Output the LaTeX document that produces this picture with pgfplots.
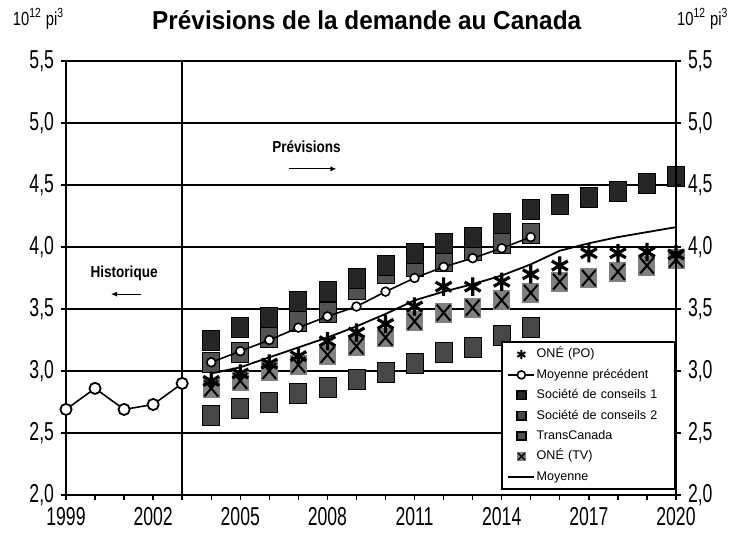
\documentclass[border=0pt]{standalone}
\usepackage{fontspec}
\setmainfont{Liberation Sans}
\newfontfamily\narrowfont[FakeStretch=0.68]{Liberation Sans}
\newfontfamily\titlefont[FakeStretch=0.94]{Liberation Sans}
\newfontfamily\annfont[FakeStretch=0.85]{Liberation Sans}
\newfontfamily\unitfont[FakeStretch=0.78]{Liberation Sans}
\usepackage{pgfplots}
\usepackage{pgfplotstable}
\pgfplotsset{compat=1.18}
\usetikzlibrary{arrows.meta}

\pgfdeclareplotmark{xsquare}{%
  \pgfpathrectangle{\pgfqpoint{-\pgfplotmarksize}{-\pgfplotmarksize}}{\pgfqpoint{2\pgfplotmarksize}{2\pgfplotmarksize}}%
  \pgfusepathqfill
  \pgfpathmoveto{\pgfqpoint{-0.8\pgfplotmarksize}{-0.8\pgfplotmarksize}}%
  \pgfpathlineto{\pgfqpoint{0.8\pgfplotmarksize}{0.8\pgfplotmarksize}}%
  \pgfpathmoveto{\pgfqpoint{-0.8\pgfplotmarksize}{0.8\pgfplotmarksize}}%
  \pgfpathlineto{\pgfqpoint{0.8\pgfplotmarksize}{-0.8\pgfplotmarksize}}%
  \pgfusepathqstroke
}

% forecasts 2004-2020
\pgfplotstableread{
year sca tca ponea ptva scb moy prec
2004 3.25 3.07 2.92 2.86 2.64 2.98 3.07
2005 3.35 3.15 2.98 2.92 2.70 3.03 3.16
2006 3.43 3.27 3.06 3.00 2.75 3.11 3.25
2007 3.56 3.40 3.12 3.05 2.82 3.19 3.35
2008 3.64 3.47 3.24 3.13 2.87 3.27 3.44
2009 3.75 3.66 3.31 3.20 2.93 3.36 3.52
2010 3.85 3.79 3.38 3.27 2.99 3.46 3.64
2011 3.95 3.84 3.52 3.40 3.06 3.57 3.75
2012 4.03 3.88 3.68 3.47 3.15 3.64 3.84
2013 4.08 3.97 3.68 3.51 3.19 3.70 3.91
2014 4.19 4.03 3.72 3.57 3.29 3.77 3.99
2015 4.30 4.11 3.78 3.63 3.35 3.86 4.08
2016 4.34 nan 3.85 3.72 nan 3.97 nan
2017 4.40 nan 3.95 3.75 nan 4.03 nan
2018 4.45 nan 3.95 3.80 nan 4.08 nan
2019 4.51 nan 3.96 3.85 nan 4.12 nan
2020 4.57 nan 3.94 3.90 nan 4.16 nan
}\forecast

% historique 1999-2003
\pgfplotstableread{
year val
1999 2.69
2000 2.86
2001 2.69
2002 2.73
2003 2.90
}\histo

\begin{document}
\begin{tikzpicture}
\useasboundingbox (-33bp,-23bp) rectangle (333.5bp,247.5bp);
\begin{axis}[
  scale only axis, width=305bp, height=217bp,
  xmin=1999, xmax=2020, ymin=2, ymax=5.5,
  xtick={1999,2002,2005,2008,2011,2014,2017,2020},
  xticklabels={1999,2002,2005,2008,2011,2014,2017,2020},
  minor xtick={1999,...,2020},
  ytick={2,2.5,3,3.5,4,4.5,5,5.5},
  xtick pos=bottom, ytick pos=left,
  tick align=outside, major tick length=2.5bp, minor tick length=2.5bp,
  tick style={black, line width=0.7bp},
  ymajorgrids, major grid style={black, line width=1bp},
  axis line style={black, line width=1.1bp},
  ticklabel style={font=\narrowfont\fontsize{13}{14}\selectfont},
  /pgf/number format/.cd, use comma, fixed, fixed zerofill, precision=1, 1000 sep={}, assume math mode=true,
  /pgfplots/.cd,
  clip mode=individual,
  legend style={at={(1,0)}, anchor=south east, yshift=2.5bp, draw=black, line width=0.9bp,
    fill=white, font=\fontsize{6.3}{7}\selectfont, inner sep=2.6bp, row sep=3.2bp,
    nodes={inner sep=0.6bp, text height=4.6bp, text depth=1.2bp, text width=66bp, align=left}},
  legend cell align=left,
  legend image code/.code={\draw[mark repeat=2,mark phase=2,#1] plot coordinates {(0bp,0bp) (6.5bp,0bp) (13bp,0bp)};},
]
\draw[black, line width=0.8bp] (axis cs:2003,2) -- (axis cs:2003,5.5);

% square series
\addplot[only marks, forget plot, mark=square*, mark size=4.25bp, mark options={yscale=1.17, draw=none, fill=black!72}] table[x=year, y=scb] {\forecast};
\addplot[only marks, forget plot, mark=square*, mark size=4.25bp, mark options={yscale=1.17, draw=none, fill=black!68}] table[x=year, y=tca] {\forecast};
\addplot[only marks, forget plot, mark=square*, mark size=4.25bp, mark options={yscale=1.17, draw=none, fill=black!85}] table[x=year, y=sca] {\forecast};
\addplot[only marks, forget plot, mark=xsquare, mark size=4.25bp, mark options={yscale=1.17, draw=black, line width=1bp, fill=black!50}] table[x=year, y=ptva] {\forecast};
\addplot[only marks, forget plot, mark=asterisk, mark size=4.6bp, mark options={black, line width=1.6bp}] table[x=year, y=ponea] {\forecast};

% lines
\addplot[forget plot, black, line width=0.8bp, mark=*, mark size=2.2bp, mark options={fill=white, line width=0.8bp}] table[x=year, y=prec] {\forecast};
\addplot[forget plot, black, line width=0.8bp, mark=*, mark size=2.8bp, mark options={fill=white, line width=0.9bp}] table[x=year, y=val] {\histo};
\addplot[forget plot, black, line width=0.9bp] table[x=year, y=moy] {\forecast};

% legend
\addlegendimage{only marks, mark=asterisk, mark size=2.3bp, mark options={black, line width=1bp}}
\addlegendentry{ONÉ (PO)}
\addlegendimage{black, line width=0.9bp, mark=*, mark size=2bp, mark options={fill=white, line width=0.8bp}}
\addlegendentry{Moyenne précédent}
\addlegendimage{only marks, mark=square*, mark size=2.1bp, mark options={draw=none, fill=black!85}}
\addlegendentry{Société de conseils 1}
\addlegendimage{only marks, mark=square*, mark size=2.1bp, mark options={draw=none, fill=black!72}}
\addlegendentry{Société de conseils 2}
\addlegendimage{only marks, mark=square*, mark size=2.1bp, mark options={draw=none, fill=black!68}}
\addlegendentry{TransCanada}
\addlegendimage{only marks, mark=xsquare, mark size=2.1bp, mark options={draw=black, line width=0.6bp, fill=black!50}}
\addlegendentry{ONÉ (TV)}
\addlegendimage{black, line width=1.1bp}
\addlegendentry{Moyenne}

% annotations
\node[font=\annfont\bfseries\fontsize{8}{9}\selectfont] at (axis cs:2007.28,4.81) {Prévisions};
\draw[-{Latex[length=3bp,width=2.6bp]}, line width=0.6bp] (axis cs:2006.69,4.63) -- (axis cs:2008.31,4.63);
\node[font=\annfont\bfseries\fontsize{8}{9}\selectfont] at (axis cs:2001.0,3.79) {Historique};
\draw[-{Latex[length=3bp,width=2.6bp]}, line width=0.6bp] (axis cs:2001.59,3.62) -- (axis cs:2000.55,3.62);

% title and units
\node[font=\titlefont\bfseries\fontsize{13}{15}\selectfont] at (axis description cs:0.493,1.094) {Prévisions de la demande au Canada};
\node[font=\unitfont\fontsize{9.5}{11}\selectfont] at (axis description cs:-0.045,1.097) {10\textsuperscript{12} pi\textsuperscript{3}};
\node[font=\unitfont\fontsize{9.5}{11}\selectfont] at (axis description cs:1.044,1.097) {10\textsuperscript{12} pi\textsuperscript{3}};
\end{axis}

\begin{axis}[
  scale only axis, width=305bp, height=217bp,
  xmin=1999, xmax=2020, ymin=2, ymax=5.5,
  axis x line=none, axis y line*=right,
  ytick={2,2.5,3,3.5,4,4.5,5,5.5},
  tick align=outside, major tick length=2.5bp,
  tick style={black, line width=0.7bp},
  axis line style={black, line width=1.1bp},
  ticklabel style={font=\narrowfont\fontsize{13}{14}\selectfont},
  /pgf/number format/.cd, use comma, fixed, fixed zerofill, precision=1, 1000 sep={}, assume math mode=true,
  /pgfplots/.cd,
]
\addplot[draw=none, forget plot] coordinates {(1999,2) (2020,5.5)};
\end{axis}
\end{tikzpicture}
\end{document}
